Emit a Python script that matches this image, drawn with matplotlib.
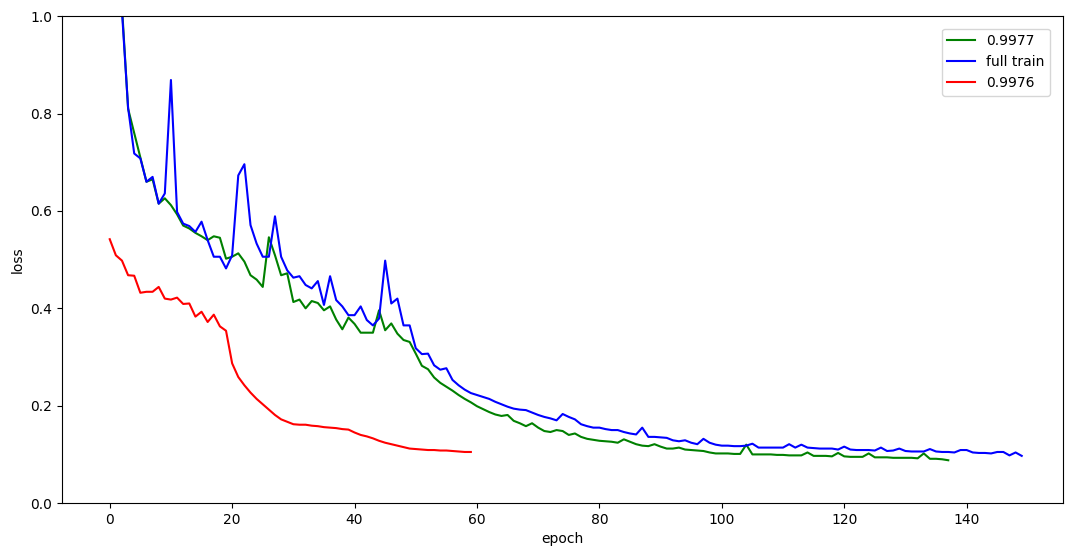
import numpy as np
import matplotlib
matplotlib.use("Agg")
import matplotlib.pyplot as plt

# loss per epoch
loss_9977 = [1.45, 1.15, 1.02, 0.81, 0.76, 0.71, 0.66, 0.665, 0.615, 0.626,
             0.612, 0.593, 0.57, 0.564, 0.555, 0.548, 0.54, 0.548, 0.545, 0.502,
             0.506, 0.513, 0.496, 0.468, 0.459, 0.444, 0.546, 0.509, 0.468, 0.472,
             0.413, 0.418, 0.4, 0.415, 0.411, 0.396, 0.404, 0.377, 0.357, 0.381,
             0.368, 0.35, 0.35, 0.35, 0.396, 0.355, 0.369, 0.348, 0.335, 0.331,
             0.307, 0.282, 0.275, 0.258, 0.247, 0.239, 0.231, 0.222, 0.214, 0.207,
             0.199, 0.193, 0.187, 0.182, 0.179, 0.181, 0.169, 0.164, 0.158, 0.164,
             0.155, 0.148, 0.146, 0.15, 0.148, 0.14, 0.143, 0.136, 0.132, 0.13,
             0.128, 0.127, 0.126, 0.124, 0.131, 0.126, 0.121, 0.118, 0.117, 0.121,
             0.116, 0.112, 0.112, 0.114, 0.11, 0.109, 0.108, 0.107, 0.104, 0.102,
             0.102, 0.102, 0.101, 0.101, 0.12, 0.1, 0.1, 0.1, 0.1, 0.099,
             0.099, 0.098, 0.098, 0.098, 0.104, 0.097, 0.097, 0.097, 0.096, 0.103,
             0.096, 0.095, 0.095, 0.095, 0.102, 0.094, 0.094, 0.094, 0.093, 0.093,
             0.093, 0.093, 0.092, 0.102, 0.091, 0.091, 0.090, 0.088]

loss_full = [1.9, 1.25, 1.01, 0.812, 0.718, 0.708, 0.66, 0.67, 0.615, 0.636,
             0.869, 0.598, 0.574, 0.569, 0.557, 0.578, 0.54, 0.506, 0.506, 0.482,
             0.509, 0.673, 0.696, 0.571, 0.533, 0.506, 0.506, 0.589, 0.506, 0.478,
             0.463, 0.466, 0.448, 0.441, 0.456, 0.407, 0.466, 0.417, 0.404, 0.386,
             0.386, 0.404, 0.376, 0.365, 0.379, 0.498, 0.41, 0.42, 0.365, 0.365,
             0.318, 0.306, 0.307, 0.283, 0.274, 0.277, 0.253, 0.242, 0.233, 0.226,
             0.222, 0.218, 0.214, 0.208, 0.203, 0.198, 0.194, 0.192, 0.191, 0.186,
             0.181, 0.177, 0.174, 0.17, 0.183, 0.177, 0.172, 0.162, 0.158, 0.155,
             0.155, 0.152, 0.15, 0.15, 0.146, 0.143, 0.141, 0.155, 0.136, 0.136,
             0.135, 0.134, 0.129, 0.127, 0.129, 0.124, 0.121, 0.132, 0.124, 0.12,
             0.118, 0.118, 0.117, 0.117, 0.118, 0.122, 0.114, 0.114, 0.114, 0.114,
             0.114, 0.121, 0.114, 0.12, 0.114, 0.113, 0.112, 0.112, 0.112, 0.11,
             0.116, 0.11, 0.109, 0.109, 0.109, 0.108, 0.114, 0.107, 0.108, 0.112,
             0.107, 0.106, 0.106, 0.106, 0.111, 0.106, 0.105, 0.105, 0.104, 0.109,
             0.109, 0.104, 0.103, 0.103, 0.102, 0.105, 0.105, 0.098, 0.104, 0.097]

loss_9976 = [0.542, 0.509, 0.498, 0.468, 0.467, 0.432, 0.434, 0.434, 0.444, 0.42,
             0.418, 0.422, 0.409, 0.41, 0.383, 0.393, 0.372, 0.387, 0.363, 0.354,
             0.287, 0.259, 0.242, 0.227, 0.214, 0.203, 0.192, 0.181, 0.172, 0.167,
             0.162, 0.161, 0.161, 0.159, 0.158, 0.156, 0.155, 0.154, 0.152, 0.151,
             0.145, 0.14, 0.137, 0.133, 0.128, 0.124, 0.121, 0.118, 0.115, 0.112,
             0.111, 0.11, 0.109, 0.109, 0.108, 0.108, 0.107, 0.106, 0.105, 0.105]

fig, ax = plt.subplots(figsize=(10.8, 5.59), dpi=100)
fig.subplots_adjust(left=0.0574, right=0.984, top=0.971, bottom=0.1)

ax.plot(np.arange(len(loss_9977)), loss_9977, color='g', linewidth=1.5, label='0.9977')
ax.plot(np.arange(len(loss_full)), loss_full, color='b', linewidth=1.5, label='full train')
ax.plot(np.arange(len(loss_9976)), loss_9976, color='r', linewidth=1.5, label='0.9976')

ax.set_xlim(-7.8, 155.7)
ax.set_ylim(0, 1.0)
ax.set_xlabel('epoch')
ax.set_ylabel('loss')
ax.legend(loc='upper right', borderaxespad=0.9)

plt.savefig('out.png', dpi=100)
